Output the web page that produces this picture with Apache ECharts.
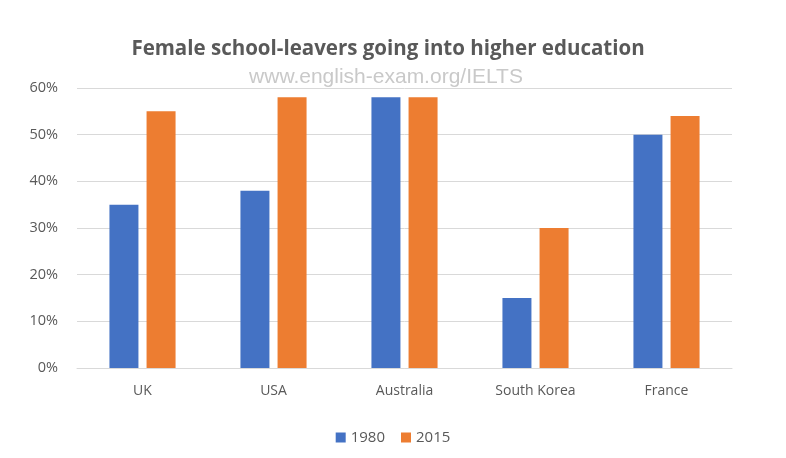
<!DOCTYPE html>
<html>
<head>
<meta charset="utf-8">
<script src="https://cdn.jsdelivr.net/npm/echarts@6/dist/echarts.min.js"></script>
<style>
html, body { margin: 0; padding: 0; background: #fff; }
#chart { width: 786px; height: 458px; }
</style>
</head>
<body>
<div id="chart"></div>
<script>
var countries = ['UK', 'USA', 'Australia', 'South Korea', 'France'];
var values1980 = [35, 38, 58, 15, 50];
var values2015 = [55, 58, 58, 30, 54];
var yTicks = [0, 10, 20, 30, 40, 50, 60];

var chart = echarts.init(document.getElementById('chart'));

/* Excel-like look: grey text, light grid lines, two bars per country. */
var textColor = '#595959';
var option =
{
    animation: false,
    title:
    [
        {
            text: 'Female school-leavers going into higher education',
            left: 383, top: 34, textAlign: 'center',
            textStyle: {fontFamily: 'Open Sans', fontSize: 20.5, fontWeight: 'bold', color: textColor}
        },
        {
            text: 'www.english-exam.org/IELTS',
            left: 381, top: 62, textAlign: 'center',
            textStyle: {fontFamily: 'Liberation Sans', fontSize: 21, fontWeight: 'normal', color: '#c9c9c9'}
        }
    ],
    legend:
    {
        data: ['1980', '2015'],
        left: 'center', top: 425,
        itemWidth: 10, itemHeight: 10, itemGap: 16,
        icon: 'rect',
        textStyle: {fontFamily: 'Open Sans', fontSize: 15, color: textColor}
    },
    grid: {left: 77, right: 54, top: 88, bottom: 90, containLabel: false},
    xAxis:
    {
        type: 'category',
        data: countries,
        axisLine: {lineStyle: {color: '#d9d9d9'}},
        axisTick: {show: false},
        axisLabel: {fontFamily: 'Open Sans', fontSize: 14, color: textColor, margin: 16}
    },
    yAxis:
    {
        type: 'value',
        min: yTicks[0], max: yTicks[yTicks.length - 1], interval: 10,
        axisLine: {show: false},
        axisTick: {show: false},
        splitLine: {lineStyle: {color: '#d9d9d9'}},
        axisLabel: {fontFamily: 'Open Sans', fontSize: 14.5, color: textColor, margin: 19, formatter: '{value}%'}
    },
    series:
    [
        {name: '1980', type: 'bar', data: values1980, barWidth: 29, barGap: '28%', itemStyle: {color: '#4472C4'}},
        {name: '2015', type: 'bar', data: values2015, barWidth: 29, itemStyle: {color: '#ED7D31'}}
    ]
};
chart.setOption(option);
</script>
</body>
</html>
